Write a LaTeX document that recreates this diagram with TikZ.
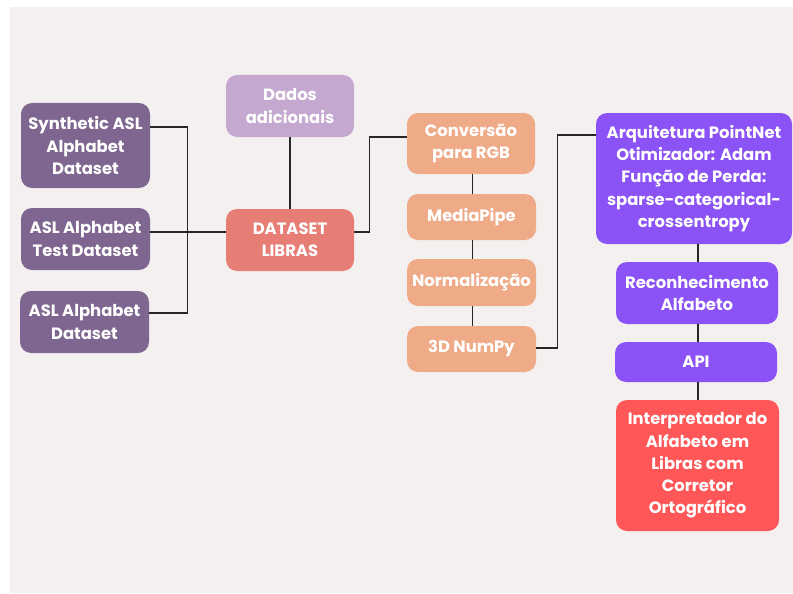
\documentclass[tikz,border=0pt]{standalone}
\usepackage{fontspec}
\setmainfont{Poppins}
\usetikzlibrary{calc}
\definecolor{bgc}{HTML}{F4F0EF}
\definecolor{plum}{HTML}{7E6690}
\definecolor{lilac}{HTML}{C4A8D0}
\definecolor{salmon}{HTML}{E67E76}
\definecolor{peach}{HTML}{EFAA88}
\definecolor{violet}{HTML}{8B52F6}
\definecolor{redb}{HTML}{FF5757}
\tikzset{
  box/.style={rounded corners=11pt, align=center, text=white, font=\fontsize{16.4}{22.2}\selectfont\bfseries, inner sep=0pt},
  conn/.style={draw=black!85, line width=1.4pt},
}
\begin{document}
\begin{tikzpicture}[x=1pt,y=-1pt]
\useasboundingbox (0,0) rectangle (793,594);
\fill[white] (0,0) rectangle (793,594);
\fill[bgc] (10,7) rectangle (793,593);
% left column
\node[box, fill=plum, minimum width=129pt, minimum height=85pt] (s1) at (85.5,145.5) {Synthetic ASL\\Alphabet\\Dataset};
\node[box, fill=plum, minimum width=129pt, minimum height=62pt] (s2) at (85.5,239) {ASL Alphabet\\Test Dataset};
\node[box, fill=plum, minimum width=129pt, minimum height=62pt] (s3) at (84.5,322) {ASL Alphabet\\Dataset};
% middle
\node[box, fill=lilac, minimum width=128pt, minimum height=62pt] (dados) at (290,106) {Dados\\adicionais};
\node[box, fill=salmon, minimum width=128pt, minimum height=62pt] (libras) at (290,240) {DATASET\\LIBRAS};
% peach column
\node[box, fill=peach, minimum width=128pt, minimum height=61pt] (conv) at (471,143.5) {Conversão\\para RGB};
\node[box, fill=peach, minimum width=129pt, minimum height=46pt] (media) at (471.5,217) {MediaPipe};
\node[box, fill=peach, minimum width=129pt, minimum height=47pt] (norm) at (471.5,282.5) {Normalização};
\node[box, fill=peach, minimum width=129pt, minimum height=46pt] (numpy) at (471.5,349) {3D NumPy};
% right column
\node[box, fill=violet, minimum width=196pt, minimum height=131pt] (arq) at (694,178.5) {Arquitetura PointNet\\Otimizador: Adam\\Função de Perda:\\sparse-categorical-\\crossentropy};
\node[box, fill=violet, minimum width=162pt, minimum height=62pt] (rec) at (697,293) {Reconhecimento\\Alfabeto};
\node[box, fill=violet, minimum width=162pt, minimum height=40pt] (api) at (696,362) {API};
\node[box, fill=redb, minimum width=163pt, minimum height=131pt] (interp) at (697.5,465.5) {Interpretador do\\Alfabeto em\\Libras com\\Corretor\\Ortográfico};
% connectors
\draw[conn] ([yshift=18.5pt]s1.east) -- ++(37,0) |- ([yshift=9pt]s3.east);
\draw[conn] ([yshift=7pt]s2.east) -- ([yshift=7pt]s2.east -| libras.west);
\draw[conn] (dados) -- (libras);
\draw[conn] ([yshift=8pt]libras.east) -- ++(15,0) |- ([yshift=6.5pt]conv.west);
\draw[conn] ([xshift=1.5pt]conv.south) -- ([xshift=1.5pt]conv.south |- media.north);
\draw[conn] ([xshift=1pt]media.south) -- ([xshift=1pt]media.south |- norm.north);
\draw[conn] ([xshift=1pt]norm.south) -- ([xshift=1pt]norm.south |- numpy.north);
\draw[conn] ([yshift=1pt]numpy.east) -- ++(21,0) |- ([yshift=43.5pt]arq.west);
\draw[conn] ([xshift=1pt]rec.north) -- ([xshift=1pt]rec.north |- arq.south);
\draw[conn] ([xshift=2pt]api.north) -- ([xshift=2pt]api.north |- rec.south);
\draw[conn] ([xshift=0.5pt]interp.north) -- ([xshift=0.5pt]interp.north |- api.south);
\end{tikzpicture}
\end{document}
